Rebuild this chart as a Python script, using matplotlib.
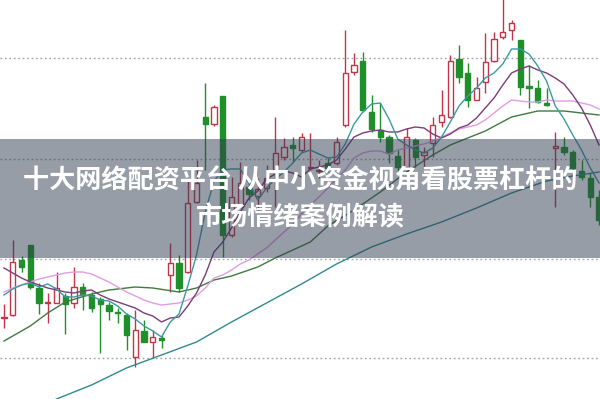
import matplotlib
matplotlib.use("Agg")
import matplotlib.pyplot as plt
from matplotlib.patches import Rectangle
import numpy as np

plt.rcParams['font.family'] = ['Noto Sans CJK SC', 'DejaVu Sans']

# daily candles
OPEN = [18.2, 18.5, 24.0, 25.5, 21.2, 19.7, 19.7, 20.4, 19.7, 21.3,
        20.5, 20.1, 19.5, 18.8, 18.5, 14.3, 16.9, 15.8, 16.2, 22.5,
        23.7, 22.8, 29.8, 38.3, 37.6, 40.4, 26.5, 29.3, 31.3, 30.4,
        31.2, 33.0, 34.3, 35.5, 35.0, 33.2, 32.9, 33.7, 33.7, 37.5,
        42.8, 43.9, 38.8, 37.0, 36.3, 34.4, 33.3, 36.0, 34.5, 35.7,
        37.8, 38.3, 44.1, 42.7, 40.0, 41.8, 43.9, 46.3, 47.0, 46.0,
        41.4, 41.2, 39.7, 35.2, 35.3, 34.8, 32.9, 32.2, 30.3]
CLOSE = [18.3, 23.8, 23.3, 21.3, 19.7, 19.8, 21.2, 19.6, 21.3, 20.5,
         19.2, 19.6, 18.9, 18.7, 16.5, 17.0, 15.8, 16.3, 16.0, 23.7,
         21.2, 29.7, 31.7, 37.6, 39.3, 26.5, 30.3, 31.7, 30.6, 31.1,
         32.2, 34.7, 35.3, 35.2, 36.3, 33.3, 33.0, 33.2, 35.8, 42.7,
         43.5, 39.0, 37.1, 36.3, 34.7, 33.3, 36.3, 34.3, 34.8, 37.5,
         38.5, 43.9, 42.3, 40.0, 41.2, 43.8, 46.1, 46.8, 47.7, 41.3,
         41.2, 39.8, 39.5, 35.4, 34.8, 33.2, 32.3, 30.3, 28.0]
HIGH = [19.6, 26.0, 24.4, 25.5, 21.7, 20.7, 22.8, 20.7, 23.3, 21.7,
        20.8, 20.3, 19.8, 19.2, 18.7, 19.0, 18.0, 17.0, 16.5, 25.7,
        24.5, 32.0, 34.0, 41.7, 39.5, 40.4, 32.3, 33.8, 32.0, 32.2,
        33.5, 38.3, 36.2, 36.3, 36.7, 36.7, 34.0, 34.2, 36.3, 47.0,
        44.7, 44.8, 40.5, 39.7, 36.5, 35.0, 37.2, 36.2, 35.3, 38.3,
        41.0, 44.5, 45.5, 43.7, 42.3, 46.7, 46.8, 50.5, 48.0, 46.0,
        43.5, 42.0, 41.2, 36.8, 36.3, 35.0, 34.0, 32.7, 31.0]
LOW = [17.2, 18.4, 22.8, 21.1, 18.6, 17.7, 19.7, 16.6, 19.2, 19.0,
       18.8, 14.7, 18.0, 17.7, 15.0, 13.3, 15.8, 14.2, 15.2, 20.8,
       20.8, 22.7, 29.7, 33.0, 37.4, 24.3, 26.3, 29.2, 30.0, 29.0,
       30.8, 29.3, 34.0, 33.8, 34.8, 33.0, 32.2, 32.8, 33.5, 37.3,
       42.5, 38.8, 36.8, 35.8, 33.7, 32.7, 33.2, 33.3, 33.3, 34.3,
       37.3, 38.2, 41.7, 39.3, 40.0, 40.7, 43.8, 46.1, 46.0, 40.5,
       39.2, 39.7, 39.4, 29.3, 34.5, 33.0, 32.0, 29.3, 27.5]

# moving average lines
MA5 = [20.5, 21.1, 21.5, 21.7, 21.3, 21.6, 21.1, 20.3, 20.3, 20.5,
       20.4, 20.0, 19.9, 19.4, 18.6, 18.1, 17.4, 16.9, 16.3, 17.8,
       18.6, 21.4, 24.5, 28.8, 31.9, 33.0, 33.1, 33.1, 31.7, 30.0,
       31.2, 32.1, 32.8, 33.7, 34.7, 35.0, 34.6, 34.2, 34.3, 35.6,
       37.6, 38.8, 39.6, 39.7, 38.1, 36.1, 35.5, 35.0, 34.7, 35.2,
       36.3, 37.8, 39.4, 40.4, 41.2, 42.2, 42.7, 43.6, 45.1, 45.1,
       44.6, 43.4, 41.9, 39.4, 38.1, 36.5, 35.0, 33.2, 31.7]
MA10 = [23.2, 22.7, 22.2, 21.8, 21.5, 21.2, 21.0, 20.8, 20.7, 20.9,
        21.0, 20.5, 20.1, 19.8, 19.5, 19.2, 18.7, 18.4, 17.8, 18.2,
        18.3, 19.4, 20.7, 22.5, 24.8, 25.8, 27.2, 28.8, 30.2, 30.9,
        32.1, 32.6, 32.9, 32.7, 32.3, 33.1, 33.3, 33.5, 34.0, 35.1,
        36.3, 36.7, 36.9, 37.0, 36.8, 36.8, 37.1, 37.3, 37.2, 36.6,
        36.2, 36.6, 37.2, 37.5, 38.2, 39.2, 40.2, 41.5, 42.7, 43.1,
        43.4, 43.0, 42.7, 42.2, 41.6, 40.5, 39.2, 37.5, 35.5]
MA20 = [20.8, 21.2, 21.5, 21.8, 22.1, 22.3, 22.5, 22.7, 22.8, 22.8,
        22.6, 22.2, 21.8, 21.3, 20.8, 20.4, 20.0, 19.7, 19.5, 19.6,
        19.7, 20.0, 20.4, 21.2, 22.2, 22.5, 23.0, 23.6, 24.0, 24.6,
        25.2, 26.0, 26.8, 27.6, 28.6, 29.5, 30.3, 31.2, 32.1, 33.0,
        34.2, 34.7, 34.9, 34.9, 34.6, 35.0, 35.2, 35.4, 35.6, 35.9,
        36.3, 36.7, 37.1, 37.3, 37.5, 38.0, 38.7, 39.4, 40.0, 39.9,
        39.8, 39.8, 40.0, 39.9, 39.9, 39.9, 39.7, 39.5, 39.1]
MA30_IDX = [0, 3, 5, 7, 10, 12, 15, 17, 20, 22, 24, 26, 29, 31, 33, 35,
            37, 40, 43, 46, 49, 51, 55, 58, 61, 64, 68]
MA30 = [15.9, 17.4, 18.7, 19.8, 20.6, 21.0, 21.3, 21.2, 20.8, 21.2, 22.0,
        22.4, 23.3, 24.2, 25.0, 25.8, 27.4, 29.0, 30.8, 32.8, 34.5, 35.5,
        36.9, 38.3, 38.9, 38.9, 38.5]
MA60_IDX = [5, 6, 10, 14, 18, 22, 26, 30, 34, 38, 42, 46, 50, 54, 58, 62,
            65, 68]
MA60 = [9.7, 10.1, 11.5, 13.2, 14.5, 15.8, 17.8, 19.7, 21.6, 23.6, 25.3,
        26.6, 27.8, 29.2, 30.7, 31.9, 32.4, 32.8]

GRID_LEVELS = [14.2, 24.1, 34.1, 44.2]
TITLE_1 = "十大网络配资平台 从中小资金视角看股票杠杆的"
TITLE_2 = "市场情绪案例解读"

UP = "#c23448"
DOWN = "#1f8f2a"

fig = plt.figure(figsize=(6, 3.99), dpi=100)
ax = fig.add_axes([0, 0, 1, 1])
ax.set_xlim(-0.457, 68.11)
ax.set_ylim(10.1, 50.0)
ax.axis("off")

for g in GRID_LEVELS:
    ax.axhline(g, color="#a0a0a0", lw=1.0, ls=(0, (1.2, 2.0)), zorder=0)

o = np.array(OPEN)
c = np.array(CLOSE)
h = np.array(HIGH)
l = np.array(LOW)
x = np.arange(len(o))
up = c >= o
cols = np.where(up, UP, DOWN)

ax.vlines(x, l, h, colors=cols, lw=1.0, zorder=2)
bottom = np.minimum(o, c)
height = np.maximum(np.abs(c - o), 0.12)
ax.bar(x[up], height[up], bottom=bottom[up], width=0.62,
       facecolor="white", edgecolor=UP, lw=1.0, zorder=3)
ax.bar(x[~up], height[~up], bottom=bottom[~up], width=0.62,
       facecolor=DOWN, edgecolor=DOWN, lw=1.0, zorder=3)

ax.plot(MA60_IDX, MA60, color="#2f8a8e", lw=1.0, zorder=4)
ax.plot(MA30_IDX, MA30, color="#3f7a3f", lw=1.0, zorder=4)
ax.plot(x, MA20, color="#e39be4", lw=1.0, zorder=4)
ax.plot(x, MA10, color="#7a3d78", lw=1.0, zorder=4)
ax.plot(x, MA5, color="#3b9aa3", lw=1.0, zorder=4)

# grey banner with the title
fig.patches.append(Rectangle((0, 1 - 258 / 399), 1, 119 / 399,
                             transform=fig.transFigure,
                             facecolor="#303c50", alpha=0.5,
                             edgecolor="none", zorder=5))
fig.text(0.5, 1 - 181 / 399, TITLE_1, ha="center", va="center",
         color="white", fontsize=18.8, fontweight="bold", zorder=6)
fig.text(0.5, 1 - 218 / 399, TITLE_2, ha="center", va="center",
         color="white", fontsize=18.8, fontweight="bold", zorder=6)

fig.savefig("out.png", dpi=100)
